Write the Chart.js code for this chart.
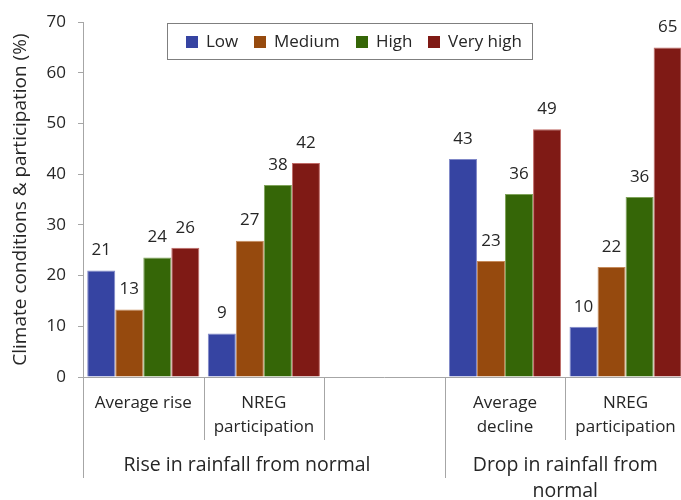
<!DOCTYPE html>
<html>
<head>
<meta charset="utf-8">
<script src="https://cdn.jsdelivr.net/npm/chart.js@4.4.1/dist/chart.umd.min.js"></script>
<style>
    html, body { margin: 0; padding: 0; overflow: hidden; background: #fff; }
    #wrap { position: relative; width: 690px; height: 500px; }
</style>
</head>
<body>
<div id="wrap"><canvas id="chart"></canvas></div>
<script>
// Dados do gráfico
const categories = ['Average rise', ['NREG', 'participation'], '', ['Average', 'decline'], ['NREG', 'participation']];
const groups = [
    { label: ['Rise in rainfall from normal'], center: 0.86 },
    { label: ['Drop in rainfall from', 'normal'], center: 3.5 }
];
const seriesNames = ['Low', 'Medium', 'High', 'Very high'];
const lowValues = [21.0, 8.6, null, 43.0, 9.9];
const mediumValues = [13.3, 26.9, null, 22.9, 21.7];
const highValues = [23.6, 37.9, null, 36.1, 35.5];
const veryHighValues = [25.5, 42.2, null, 48.9, 65.0];
const yTicks = [0, 10, 20, 30, 40, 50, 60, 70];

const colors = ['#3644a2', '#964a0e', '#356607', '#7f1a15'];
const edgeColors = ['#8088c8', '#c58a5a', '#7fa35a', '#c06a66'];
const FONT = "'Open Sans', sans-serif";
const TEXT = '#262626';
const AXIS = '#a6a6a6';

// Linhas divisórias e rótulos de grupo do eixo X
const axisDecor = {
    id: 'axisDecor',
    afterDraw(chart) {
        const ctx = chart.ctx;
        const x = chart.scales.x;
        const area = chart.chartArea;
        const half = (x.getPixelForValue(1) - x.getPixelForValue(0)) / 2;
        ctx.save();
        ctx.strokeStyle = AXIS;
        ctx.lineWidth = 1;
        for (let i = 0; i <= categories.length; i++) {
            const px = Math.round(x.getPixelForValue(i) - half) + 0.5;
            const isGroupEdge = (i === 0 || i === 3);
            ctx.beginPath();
            ctx.moveTo(px, area.bottom);
            ctx.lineTo(px, isGroupEdge ? area.bottom + 101 : area.bottom + 63);
            ctx.stroke();
        }
        ctx.fillStyle = TEXT;
        ctx.font = '19.5px ' + FONT;
        ctx.textAlign = 'center';
        ctx.textBaseline = 'middle';
        groups.forEach(g => {
            const cx = x.getPixelForValue(g.center);
            g.label.forEach((line, k) => ctx.fillText(line, cx, area.bottom + 88 + k * 26));
        });
        ctx.restore();
    }
};

// Rótulos de valor acima das barras
const valueLabels = {
    id: 'valueLabels',
    afterDatasetsDraw(chart) {
        const ctx = chart.ctx;
        ctx.save();
        ctx.fillStyle = TEXT;
        ctx.font = '17px ' + FONT;
        ctx.textAlign = 'center';
        ctx.textBaseline = 'middle';
        chart.data.datasets.forEach((ds, di) => {
            chart.getDatasetMeta(di).data.forEach((bar, i) => {
                if (ds.data[i] == null) return;
                ctx.fillText(Math.round(ds.data[i]), bar.x, bar.y - 20);
            });
        });
        ctx.restore();
    }
};

// Legenda com moldura
const boxedLegend = {
    id: 'boxedLegend',
    afterDraw(chart) {
        const ctx = chart.ctx;
        ctx.save();
        ctx.strokeStyle = '#7f7f7f';
        ctx.lineWidth = 1;
        ctx.strokeRect(167.5, 23.5, 365, 36);
        ctx.font = '17px ' + FONT;
        ctx.textBaseline = 'middle';
        ctx.textAlign = 'left';
        const starts = [186, 254, 356, 428];
        chart.data.datasets.forEach((ds, i) => {
            ctx.fillStyle = ds.backgroundColor;
            ctx.fillRect(starts[i], 36, 12, 12);
            ctx.fillStyle = TEXT;
            ctx.fillText(ds.label, starts[i] + 20, 42);
        });
        ctx.restore();
    }
};

document.addEventListener('DOMContentLoaded', () => {
    const el = document.getElementById('chart');
    const values = [lowValues, mediumValues, highValues, veryHighValues];

    new Chart(el, {
        type: 'bar',
        data: {
            labels: categories,
            datasets: seriesNames.map((name, i) => ({
                label: name,
                data: values[i],
                backgroundColor: colors[i],
                borderColor: edgeColors[i],
                borderWidth: 1,
                categoryPercentage: 0.93,
                barPercentage: 1.0
            }))
        },
        options: {
            responsive: true,
            maintainAspectRatio: false,
            animation: false,
            layout: { padding: { top: 11, right: 2, left: 0, bottom: 0 } },
            plugins: {
                legend: { display: false },
                tooltip: { enabled: false }
            },
            scales: {
                x: {
                    grid: { display: false, drawTicks: false },
                    border: { color: AXIS, width: 1 },
                    ticks: {
                        color: TEXT,
                        font: { family: FONT, size: 17, lineHeight: 1.41 },
                        padding: 14,
                        maxRotation: 0,
                        autoSkip: false
                    },
                    afterFit(scale) { scale.height = 123; }
                },
                y: {
                    min: 0,
                    max: 70,
                    afterBuildTicks(scale) { scale.ticks = yTicks.map(v => ({ value: v })); },
                    grid: { drawOnChartArea: false, drawTicks: true, tickLength: 5, color: AXIS },
                    border: { color: AXIS, width: 1 },
                    ticks: {
                        color: TEXT,
                        font: { family: FONT, size: 17 },
                        padding: 12
                    },
                    title: {
                        display: true,
                        text: 'Climate conditions & participation (%)',
                        color: TEXT,
                        font: { family: FONT, size: 19 },
                        padding: { top: 9, bottom: 0 }
                    },
                    afterFit(scale) { scale.width = 83; }
                }
            }
        },
        plugins: [axisDecor, valueLabels, boxedLegend]
    });
});
</script>
</body>
</html>
